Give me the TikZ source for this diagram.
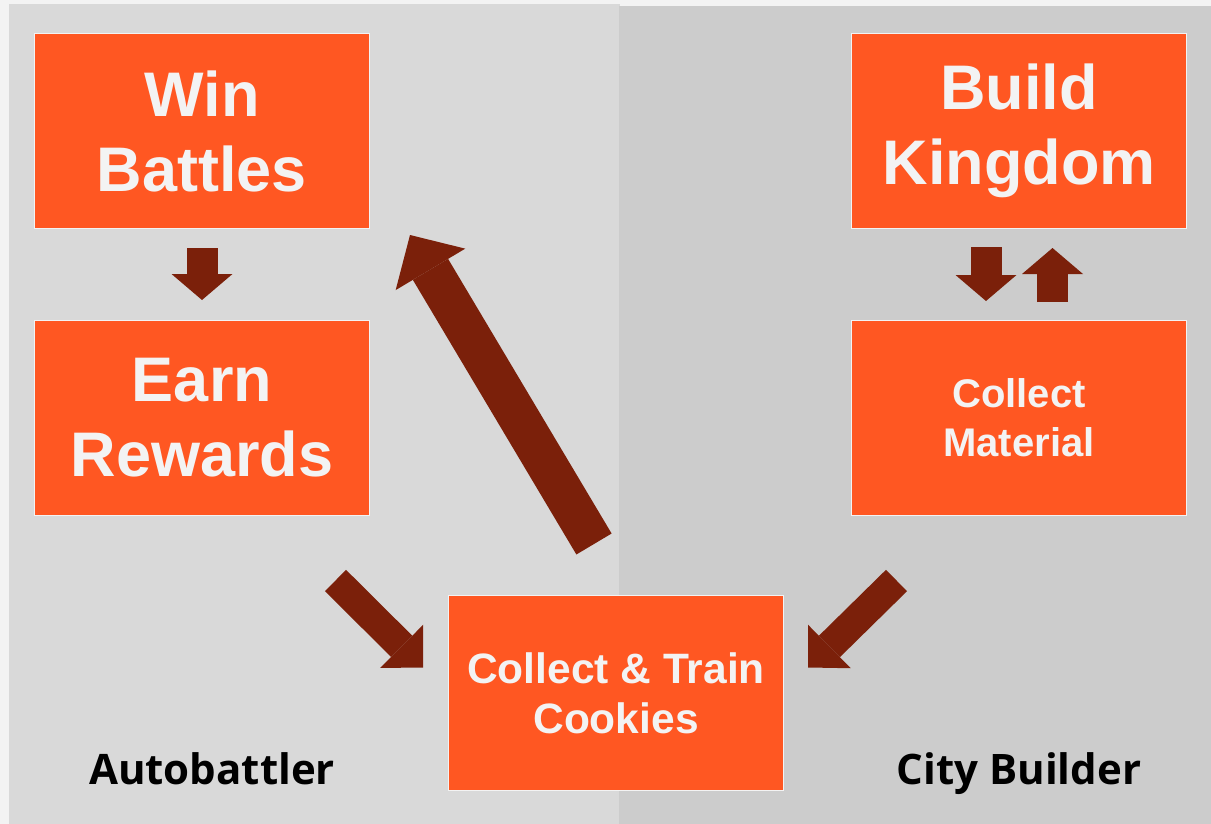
\documentclass[tikz,border=0pt]{standalone}
\usepackage{fontspec}
\usetikzlibrary{arrows.meta,calc}
\newfontfamily\boxfont{Liberation Sans}
\newfontfamily\tagfont{Open Sans}
\definecolor{boxorange}{HTML}{FF5722}
\definecolor{arrowred}{HTML}{7B200A}
\definecolor{leftgray}{HTML}{D9D9D9}
\definecolor{rightgray}{HTML}{CCCCCC}
\definecolor{pagegray}{HTML}{F3F3F3}
\tikzset{
  loopbox/.style={draw=pagegray,line width=1pt,fill=boxorange,text=pagegray,
    minimum width=335pt,minimum height=195pt,anchor=north west,align=center,inner sep=0pt},
  bigtext/.style={font=\boxfont\bfseries\fontsize{63}{75}\selectfont},
  smalltext/.style={font=\boxfont\bfseries\fontsize{41}{50}\selectfont},
  sidetag/.style={font=\tagfont\bfseries\fontsize{42}{50}\selectfont,text=black,anchor=base},
  blockarrow/.style={color=arrowred,line width=31pt,
    -{Triangle[width=61pt,length=26pt,line width=0pt]}},
  slantarrow/.style={color=arrowred,line width=30pt,
    -{Triangle[width=61pt,length=30pt,line width=0pt]}},
  widearrow/.style={color=arrowred,line width=41pt,
    -{Triangle[width=81pt,length=40pt,line width=0pt]}}
}
\begin{document}
\begin{tikzpicture}[x=1pt,y=-1pt]
  \useasboundingbox (0,0) rectangle (1211,824);
  % panels
  \fill[pagegray] (0,0) rectangle (1211,824);
  \fill[leftgray] (9,4) rectangle (620,824);
  \fill[rightgray] (619,6) rectangle (1211,824);

  % boxes
  \node[loopbox,bigtext] (win) at (34,33) {Win\\Battles};
  \node[loopbox,bigtext] (earn) at (34,320) {Earn\\Rewards};
  \node[loopbox,bigtext] (kingdom) at (851,33) {Build\\Kingdom};
  \node[loopbox,smalltext,font=\boxfont\bfseries\fontsize{40}{49}\selectfont] (material) at (851,320) {Collect\\Material};
  \node[loopbox,smalltext,font=\boxfont\bfseries\fontsize{42.5}{50}\selectfont] (cookies) at (448,595) {Collect \& Train\\Cookies};

  % side labels
  \node[sidetag] (autolabel) at (212,784) {Autobattler};
  \node[sidetag] (citylabel) at (1019,784) {City Builder};

  % arrows
  \draw[blockarrow] ($(win.south)+(0,19)$) -- ($(earn.north)+(0,-20)$);
  \draw[blockarrow] ($(kingdom.south)+(-33,18)$) -- ($(material.north)+(-33,-19)$);
  \draw[blockarrow] ($(material.north)+(33.5,-18)$) -- ($(kingdom.south)+(33.5,19)$);
  \draw[slantarrow] ($(earn.south east)+(-34.5,64.5)$) -- ($(cookies.west)+(-25,-25.5)$);
  \draw[slantarrow] ($(material.south west)+(45.5,64.5)$) -- ($(cookies.east)+(24,-25.5)$);
  \draw[widearrow] ($(cookies.north)+(-22,-51)$) -- ($(win.south east)+(40,6)$);
\end{tikzpicture}
\end{document}
